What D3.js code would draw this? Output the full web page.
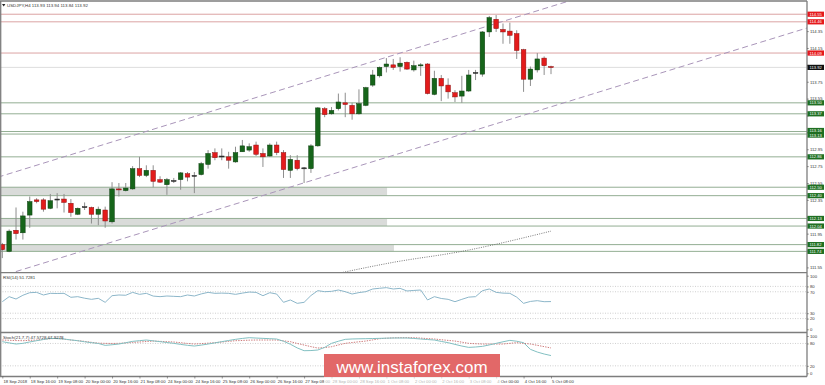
<!DOCTYPE html>
<html>
<head>
<meta charset="utf-8">
<script src="https://cdn.jsdelivr.net/npm/d3@7"></script>
<style>
body { margin: 0; background: #fff; }
svg { display: block; font-family: 'Liberation Sans', Arial, sans-serif; }
</style>
</head>
<body>
<div id="chart"></div>
<script>
// USDJPY H4, 18 Sep 2018 00:00 .. 5 Oct 2018 08:00, one entry per bar
const opens  = [111.82,111.74,111.99,111.96,112.17,112.35,112.35,112.25,112.36,112.36,112.31,112.18,112.27,112.26,112.18,112.23,112.09,112.48,112.46,112.48,
                112.72,112.64,112.70,112.59,112.53,112.58,112.59,112.66,112.64,112.65,112.77,112.91,112.87,112.86,112.80,112.92,112.94,113.00,112.90,112.87,
                113.00,112.91,112.70,112.82,112.73,112.72,112.99,113.43,113.37,113.43,113.50,113.47,113.37,113.47,113.71,113.82,113.93,113.95,113.93,113.98,
                113.89,113.94,113.96,113.60,113.79,113.71,113.62,113.58,113.64,113.86,113.84,114.34,114.49,114.37,114.35,114.32,114.13,113.78,113.89,114.03,113.93]
const highs  = [111.84,112.00,112.26,112.21,112.39,112.37,112.37,112.42,112.43,112.42,112.36,112.26,112.32,112.27,112.27,112.27,112.56,112.55,112.55,112.75,
                112.86,112.76,112.76,112.63,112.61,112.61,112.68,112.68,112.68,112.80,112.94,112.96,112.96,112.92,112.98,113.06,113.02,113.04,112.96,113.02,
                113.04,112.94,112.88,112.88,112.74,113.01,113.45,113.45,113.45,113.61,113.62,113.50,113.66,113.69,113.89,113.93,114.03,114.02,114.04,113.99,
                114.00,113.97,113.97,113.88,113.83,113.79,113.65,113.82,113.89,113.89,114.35,114.53,114.54,114.44,114.45,114.36,114.14,113.93,114.09,114.05,113.94]
const lows   = [111.66,111.73,111.88,111.88,112.02,112.31,112.21,112.24,112.25,112.20,112.15,112.17,112.23,112.07,112.05,112.02,112.07,112.39,112.45,112.47,
                112.62,112.62,112.50,112.55,112.41,112.55,112.47,112.57,112.43,112.64,112.72,112.82,112.82,112.72,112.79,112.92,112.92,112.87,112.74,112.86,
                112.88,112.61,112.61,112.70,112.55,112.67,112.98,113.33,113.36,113.41,113.33,113.30,113.36,113.46,113.69,113.80,113.86,113.89,113.87,113.89,
                113.87,113.82,113.60,113.59,113.52,113.55,113.51,113.50,113.63,113.77,113.81,114.28,114.34,114.20,114.20,114.02,113.63,113.70,113.86,113.83,113.84]
const closes = [111.76,111.98,111.95,112.16,112.33,112.33,112.24,112.34,112.36,112.32,112.20,112.25,112.27,112.18,112.24,112.10,112.48,112.47,112.49,112.72,
                112.64,112.70,112.57,112.56,112.59,112.58,112.67,112.62,112.64,112.78,112.90,112.85,112.87,112.82,112.91,112.99,112.98,112.89,112.86,113.00,
                112.91,112.71,112.83,112.72,112.73,112.99,113.44,113.36,113.41,113.51,113.48,113.37,113.49,113.68,113.83,113.92,113.96,113.92,113.97,113.90,
                113.94,113.95,113.61,113.79,113.70,113.63,113.57,113.64,113.83,113.86,114.34,114.51,114.38,114.34,114.30,114.12,113.78,113.90,114.02,113.94,113.92]

const rsiValues = [51.5,60.9,56.5,63.5,68.3,68.9,64.0,67.1,66.8,67.1,59.7,60.9,58.0,55.9,57.8,50.3,62.7,64.0,63.5,68.9,
                   65.2,67.1,62.0,60.9,62.1,61.5,60.9,64.0,62.1,66.0,68.9,67.1,67.5,67.1,65.2,67.5,69.5,68.9,62.7,68.3,
                   65.8,50.3,54.7,48.4,50.3,63.0,72.1,70.2,70.8,73.3,70.2,65.8,68.5,70.2,75.2,76.5,77.7,75.2,76.4,71.5,
                   72.5,73.3,54.7,60.9,57.5,55.9,51.5,55.9,60.0,60.9,72.0,75.2,68.9,67.5,67.1,60.0,48.4,52.0,53.4,51.5,51.73]
const stochMain = [84.8,81.5,78.5,80.3,84.0,87.4,90.5,93.7,93.0,91.9,89.5,87.4,84.5,82.1,80.0,74.9,76.5,78.5,82.0,85.6,
                   87.5,89.2,87.0,84.8,82.5,80.3,77.5,75.0,73.1,75.5,78.5,81.5,84.8,88.0,91.0,93.5,95.5,94.5,93.7,92.8,
                   91.9,86.0,78.0,68.0,60.6,61.0,62.4,69.5,80.3,86.0,91.0,92.0,92.5,92.8,93.2,93.7,94.2,94.6,94.6,94.6,
                   93.5,91.9,90.5,89.2,85.5,82.1,77.5,73.1,69.5,70.5,72.2,76.0,80.3,84.5,88.3,86.0,82.1,64.2,57.0,51.7,47.57]
const stochSignal = [89.2,88.5,87.8,87.4,88.3,89.2,91.0,92.8,93.7,91.5,89.2,87.4,85.6,83.0,80.8,80.3,80.0,80.3,81.5,82.8,
                     83.9,85.2,86.5,85.6,84.8,83.9,82.0,80.0,78.5,79.5,80.8,82.1,83.9,85.6,87.4,88.0,88.8,89.2,89.2,89.2,
                     89.2,87.0,84.8,80.0,75.8,71.5,67.7,69.0,71.3,76.0,80.3,82.5,84.5,86.5,89.5,92.8,94.0,95.0,95.5,95.5,
                     95.5,94.3,93.0,91.9,90.0,88.2,86.5,83.5,80.3,79.3,78.5,78.5,78.5,78.5,80.3,82.1,80.3,78.5,75.0,71.5,67.93]

const timeLabels = ['18 Sep 2018','18 Sep 16:00','19 Sep 08:00','20 Sep 00:00','20 Sep 16:00','21 Sep 08:00','24 Sep 00:00',
                    '24 Sep 16:00','25 Sep 08:00','26 Sep 00:00','26 Sep 16:00','27 Sep 08:00','28 Sep 00:00','28 Sep 16:00',
                    '1 Oct 08:00','2 Oct 00:00','2 Oct 16:00','3 Oct 08:00','4 Oct 00:00','4 Oct 16:00','5 Oct 08:00']
const timeTickBars = timeLabels.map((t, i) => i * 4)
const priceTicks = [114.35,114.15,113.95,113.75,113.55,113.35,113.15,112.95,112.75,112.55,112.35,112.15,111.95,111.75,111.55]
const rsiTicks = [100, 80, 70, 30, 20, 0]
const rsiLevels = [80, 70, 30, 20]
const stochTicks = [100, 80, 20, 0]
const stochLevels = [80, 20]

const redLevels = [114.55, 114.46, 114.09]
const greenLevels = [113.50, 113.37, 113.16, 113.13, 112.86, 112.50, 112.40, 112.13, 112.04, 111.82, 111.74]
const lastPrice = 113.92
const bandTops = [112.50, 112.13, 111.82]
const bandBottoms = [112.40, 112.04, 111.74]
const bandEndBars = [56.1, 56.1, 57.1]

// trend channel: [bar, price] anchors
const upperChannel = [[0, 112.635], [80, 114.641]]
const lowerChannel = [[0, 111.451], [80, 113.453]]
const maBars = [49, 57, 67, 80]
const maValues = [111.48, 111.61, 111.74, 111.98]

const header = 'USDJPY,H4 113.93 113.94 113.84 113.92'
const rsiHeader = 'RSI(14) 51.7281'
const stochHeader = 'Stoch(21,7,7) 47.5728 67.9278'

const width = 825
const height = 385
const plotRight = 807
const mainTop = 1
const mainBottom = 272.7
const rsiBottom = 332.5
const stochBottom = 376.5

const xScale = d3.scaleLinear().domain([0, 80]).range([2.3, 551])
const yMain = d3.scaleLinear().domain([111.55, 114.35]).range([267.4, 31.1])
const yRsi = d3.scaleLinear().domain([0, 100]).range([329.3, 275.7])
const yStoch = d3.scaleLinear().domain([0, 100]).range([373.3, 336])

const svg = d3.select('#chart').append('svg')
    .attr('width', width)
    .attr('height', height)

svg.append('rect').attr('width', width).attr('height', height).attr('fill', '#fff')

const defs = svg.append('defs')
const clip = (id, y0, y1) => defs.append('clipPath').attr('id', id)
    .append('rect').attr('x', 0).attr('y', y0).attr('width', plotRight).attr('height', y1 - y0)
clip('clip-main', mainTop, mainBottom)
clip('clip-rsi', mainBottom, rsiBottom)
clip('clip-stoch', rsiBottom, stochBottom)

// ---- main panel
const main = svg.append('g').attr('clip-path', 'url(#clip-main)')

main.selectAll('.band')
    .data(bandTops)
    .enter()
    .append('rect')
    .attr('x', 0)
    .attr('y', (d) => yMain(d))
    .attr('width', (d, i) => xScale(bandEndBars[i]))
    .attr('height', (d, i) => yMain(bandBottoms[i]) - yMain(d))
    .attr('fill', '#d9dbd9')

main.selectAll('.green-level')
    .data(greenLevels)
    .enter()
    .append('line')
    .attr('x1', 0).attr('x2', plotRight)
    .attr('y1', (d) => yMain(d)).attr('y2', (d) => yMain(d))
    .attr('stroke', '#93ae93').attr('stroke-width', 1)

main.selectAll('.red-level')
    .data(redLevels)
    .enter()
    .append('line')
    .attr('x1', 0).attr('x2', plotRight)
    .attr('y1', (d) => yMain(d)).attr('y2', (d) => yMain(d))
    .attr('stroke', '#dba3a3').attr('stroke-width', 1)

main.append('line')
    .attr('x1', 0).attr('x2', plotRight)
    .attr('y1', yMain(lastPrice)).attr('y2', yMain(lastPrice))
    .attr('stroke', '#d4d4d4').attr('stroke-width', 0.8)

const channelLine = (anchors) => {
    const [[i0, p0], [i1, p1]] = anchors
    const slope = (p1 - p0) / (i1 - i0)
    const ext = [-2, 120]
    return ext.map((i) => [xScale(i), yMain(p0 + slope * (i - i0))])
}
;[upperChannel, lowerChannel].forEach((a) => {
    main.append('path')
        .attr('d', d3.line()(channelLine(a)))
        .attr('fill', 'none')
        .attr('stroke', '#a995b9')
        .attr('stroke-width', 1)
        .attr('stroke-dasharray', '6,3.5')
})

main.append('path')
    .datum(maBars)
    .attr('d', d3.line().curve(d3.curveMonotoneX).x((d) => xScale(d)).y((d, i) => yMain(maValues[i])))
    .attr('fill', 'none')
    .attr('stroke', '#6a6a6a')
    .attr('stroke-width', 0.9)
    .attr('stroke-dasharray', '1,1.3')

const bars = opens.map((o, i) => ({ i, o, h: highs[i], l: lows[i], c: closes[i] }))
const bodyW = 4.6

main.selectAll('.wick')
    .data(bars)
    .enter()
    .append('line')
    .attr('x1', (d) => xScale(d.i)).attr('x2', (d) => xScale(d.i))
    .attr('y1', (d) => yMain(d.h)).attr('y2', (d) => yMain(d.l))
    .attr('stroke', '#8e8e8e').attr('stroke-width', 1)

main.selectAll('.body')
    .data(bars)
    .enter()
    .append('rect')
    .attr('x', (d) => xScale(d.i) - bodyW / 2)
    .attr('y', (d) => yMain(Math.max(d.o, d.c)))
    .attr('width', bodyW)
    .attr('height', (d) => Math.max(1, Math.abs(yMain(d.o) - yMain(d.c))))
    .attr('fill', (d) => d.c > d.o ? '#16651a' : d.c < d.o ? '#e31b1b' : '#2a2a2a')
    .attr('stroke', (d) => d.c > d.o ? '#0c3d0e' : d.c < d.o ? '#8c1010' : '#2a2a2a')
    .attr('stroke-width', 0.5)

// header
svg.append('path').attr('d', 'M2,4 L5.4,4 L3.7,6.6 Z').attr('fill', '#222')
svg.append('text').attr('x', 7).attr('y', 6.7).attr('font-size', 4.4).attr('fill', '#333').text(header)

// ---- RSI panel
const rsi = svg.append('g').attr('clip-path', 'url(#clip-rsi)')
rsi.selectAll('.lvl')
    .data(rsiLevels)
    .enter()
    .append('line')
    .attr('x1', 0).attr('x2', plotRight)
    .attr('y1', (d) => yRsi(d)).attr('y2', (d) => yRsi(d))
    .attr('stroke', '#c4c4c4').attr('stroke-width', 0.8).attr('stroke-dasharray', '1,1.5')
rsi.append('path')
    .datum(rsiValues)
    .attr('d', d3.line().x((d, i) => xScale(i)).y((d) => yRsi(d)))
    .attr('fill', 'none').attr('stroke', '#8cb6c9').attr('stroke-width', 1)
svg.append('text').attr('x', 3).attr('y', 279.3).attr('font-size', 4.4).attr('fill', '#333').text(rsiHeader)

// ---- Stochastic panel
const stoch = svg.append('g').attr('clip-path', 'url(#clip-stoch)')
stoch.selectAll('.lvl')
    .data(stochLevels)
    .enter()
    .append('line')
    .attr('x1', 0).attr('x2', plotRight)
    .attr('y1', (d) => yStoch(d)).attr('y2', (d) => yStoch(d))
    .attr('stroke', '#c4c4c4').attr('stroke-width', 0.8).attr('stroke-dasharray', '1,1.5')
stoch.append('path')
    .datum(stochSignal)
    .attr('d', d3.line().x((d, i) => xScale(i)).y((d) => yStoch(d)))
    .attr('fill', 'none').attr('stroke', '#c76b6b').attr('stroke-width', 0.9).attr('stroke-dasharray', '1.4,1.2')
stoch.append('path')
    .datum(stochMain)
    .attr('d', d3.line().x((d, i) => xScale(i)).y((d) => yStoch(d)))
    .attr('fill', 'none').attr('stroke', '#83c0c2').attr('stroke-width', 1)
svg.append('text').attr('x', 3).attr('y', 339.3).attr('font-size', 4.4).attr('fill', '#333').text(stochHeader)

// ---- frame
const frame = svg.append('g').attr('stroke', '#7d7d7d').attr('stroke-width', 1.3)
frame.append('line').attr('x1', 0.7).attr('x2', 0.7).attr('y1', mainTop).attr('y2', stochBottom)
frame.append('line').attr('x1', plotRight).attr('x2', plotRight).attr('y1', mainTop).attr('y2', stochBottom)
;[mainTop, mainBottom, rsiBottom, stochBottom].forEach((y) => {
    frame.append('line').attr('x1', 0).attr('x2', plotRight).attr('y1', y).attr('y2', y)
})

// ---- right axes
const styleAxis = (g) => {
    g.select('.domain').remove()
    g.selectAll('.tick line').attr('stroke', '#555').attr('stroke-width', 0.6)
    g.selectAll('.tick text').attr('font-size', 4.2).attr('fill', '#333').attr('x', 3)
    g.attr('font-family', null)
}
const tagPrices = [...redLevels, ...greenLevels, lastPrice]
const priceAxis = svg.append('g')
    .attr('transform', `translate(${plotRight}, 0)`)
    .call(d3.axisRight(yMain).tickValues(priceTicks).tickSize(1.8).tickFormat(d3.format('.2f')))
    .call(styleAxis)
// tick labels that sit under a price tag are hidden by it, as in the terminal
priceAxis.selectAll('.tick text')
    .filter((d) => tagPrices.some((p) => Math.abs(yMain(p) - yMain(d)) < 3))
    .remove()
svg.append('g')
    .attr('transform', `translate(${plotRight}, 0)`)
    .call(d3.axisRight(yRsi).tickValues(rsiTicks).tickSize(1.8))
    .call(styleAxis)
svg.append('g')
    .attr('transform', `translate(${plotRight}, 0)`)
    .call(d3.axisRight(yStoch).tickValues(stochTicks).tickSize(1.8))
    .call(styleAxis)

// price tags on the axis; tags closer than a tag height are pushed apart a little
const tags = [
    ...redLevels.map((p) => ({ p, fill: '#e5191c' })),
    ...greenLevels.map((p) => ({ p, fill: '#1f6f22' })),
    { p: lastPrice, fill: '#111' }
].sort((a, b) => b.p - a.p)
tags.forEach((t, i) => {
    t.y = yMain(t.p)
    if (i > 0 && t.y - tags[i - 1].y < 4.6) {
        const push = (4.6 - (t.y - tags[i - 1].y)) / 2
        tags[i - 1].y -= push
        t.y += push
    }
})
const tagG = svg.selectAll('.tag')
    .data(tags)
    .enter()
    .append('g')
    .attr('transform', (d) => `translate(${plotRight + 0.5}, ${d.y})`)
tagG.append('rect')
    .attr('x', 0).attr('y', -2.6)
    .attr('width', 16.5).attr('height', 5.2)
    .attr('fill', (d) => d.fill)
tagG.append('text')
    .attr('x', 2).attr('y', 1.5)
    .attr('font-size', 4.1)
    .attr('fill', '#fff')
    .text((d) => d3.format('.2f')(d.p))

// ---- time axis
const timeAxis = svg.append('g')
    .attr('transform', `translate(0, ${stochBottom})`)
    .call(d3.axisBottom(xScale).tickValues(timeTickBars).tickSize(2).tickFormat((d, i) => timeLabels[i]))
timeAxis.select('.domain').remove()
timeAxis.attr('font-family', null)
timeAxis.selectAll('.tick line').attr('stroke', '#555').attr('stroke-width', 0.6)
timeAxis.selectAll('.tick text')
    .attr('font-size', 4.2)
    .attr('fill', '#333')
    .attr('text-anchor', 'start')
    .attr('x', 0.6)
    .attr('y', 3.2)

// ---- watermark
svg.append('rect').attr('x', 324).attr('y', 354).attr('width', 176).attr('height', 23).attr('fill', '#e26868')
svg.append('rect').attr('x', 324).attr('y', 377).attr('width', 176).attr('height', 8).attr('fill', '#fff').attr('opacity', 0.6)
svg.append('text')
    .attr('x', 412).attr('y', 372.5)
    .attr('text-anchor', 'middle')
    .attr('font-size', 17)
    .attr('fill', '#fff')
    .text('www.instaforex.com')
</script>
</body>
</html>
